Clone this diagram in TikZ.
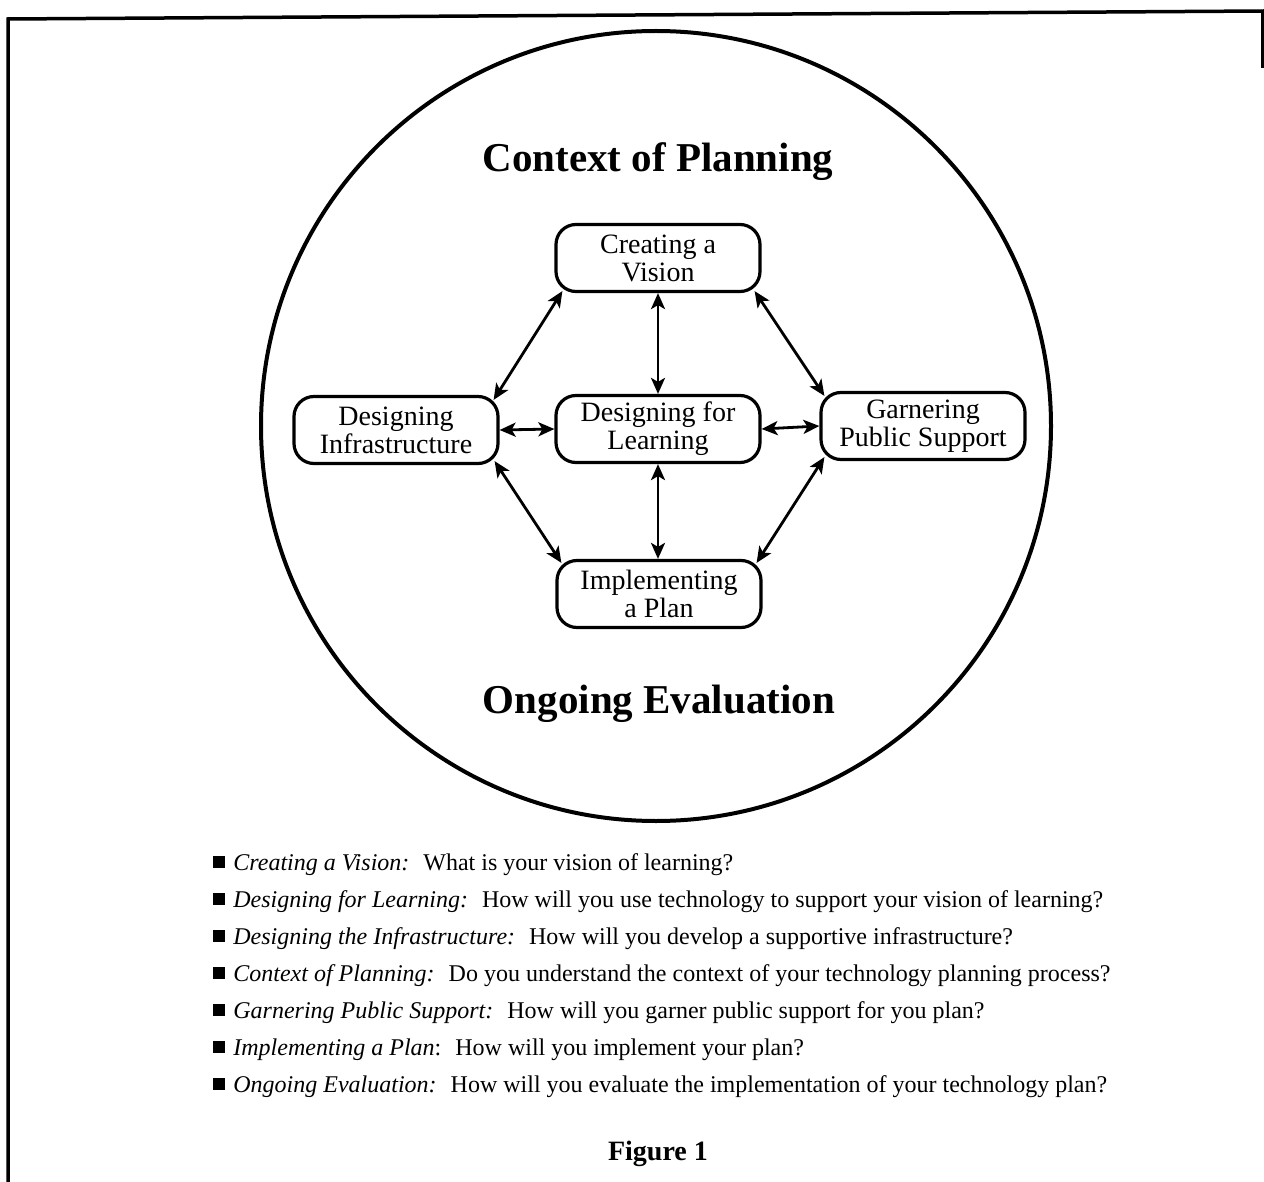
\documentclass[tikz,border=0pt]{standalone}
\usepackage{fontspec}
\setmainfont{Liberation Serif}
\usetikzlibrary{arrows.meta,calc}
\newcommand\itemsq{\rule[1pt]{6pt}{6pt}\hspace{4pt}}
\begin{document}
\begin{tikzpicture}[x=0.5pt,y=-0.5pt,
  stage/.style={draw, line width=1.6pt, rounded corners=10pt, minimum width=102pt, minimum height=33.5pt, align=center, font=\fontsize{14}{14}\selectfont, inner sep=0pt},
  tipx/.tip={Stealth[length=8pt,width=7pt,inset=2pt]},
  link/.style={line width=1.4pt, tipx-tipx},
  heading/.style={font=\fontsize{20.5}{24}\selectfont\bfseries, anchor=base, inner sep=0pt},
  entry/.style={font=\fontsize{12}{14}\selectfont, anchor=base west, inner sep=0pt},
]
\useasboundingbox (0,0) rectangle (1264,1182);
\fill[white] (0,0) rectangle (1264,1182);
% frame
\draw[line width=1.75pt] (8,1182) -- (8,19) -- (1264,11);
\draw[line width=1.5pt] (1262,11) -- (1262,68);
% ring
\node[draw, circle, line width=2pt, minimum size=395pt, inner sep=0pt] (ring) at (656,426) {};
% headings
\node[heading] (ctx) at (658,172) {Context of Planning};
\node[heading] (eval) at (659,713) {Ongoing Evaluation};
% stages
\node[stage] (vision) at (658,258) {Creating a\\Vision};
\node[stage] (infra) at (396,430) {Designing\\Infrastructure};
\node[stage] (learn) at (658,429) {Designing for\\Learning};
\node[stage] (garner) at (923,426) {Garnering\\Public Support};
\node[stage] (impl) at (659,594) {Implementing\\a Plan};
% connectors
\draw[link] (vision.south) -- (learn.north);
\draw[link] (learn.south) -- (learn.south |- impl.north);
\draw[link] (infra.east) -- (learn.west);
\draw[link] (learn.east) -- (garner.west);
\draw[link] ($(vision.south west)+(8,-2)$) -- ($(infra.north east)+(-6,5)$);
\draw[link] ($(vision.south east)+(-7,-2)$) -- ($(garner.north west)+(5,5)$);
\draw[link] ($(infra.south east)+(-5,-4)$) -- ($(impl.north west)+(6,4)$);
\draw[link] ($(garner.south west)+(5,-4)$) -- ($(impl.north east)+(-6,4)$);
% list
\node[entry] (l1) at (213,870) {\itemsq\textit{Creating a Vision:}\hspace{7pt}What is your vision of learning?};
\node[entry] (l2) at (213,907) {\itemsq\textit{Designing for Learning:}\hspace{7pt}How will you use technology to support your vision of learning?};
\node[entry] (l3) at (213,944) {\itemsq\textit{Designing the Infrastructure:}\hspace{7pt}How will you develop a supportive infrastructure?};
\node[entry] (l4) at (213,981) {\itemsq\textit{Context of Planning:}\hspace{7pt}Do you understand the context of your technology planning process?};
\node[entry] (l5) at (213,1018) {\itemsq\textit{Garnering Public Support:}\hspace{7pt}How will you garner public support for you plan?};
\node[entry] (l6) at (213,1055) {\itemsq\textit{Implementing a Plan}:\hspace{7pt}How will you implement your plan?};
\node[entry] (l7) at (213,1092) {\itemsq\textit{Ongoing Evaluation:}\hspace{7pt}How will you evaluate the implementation of your technology plan?};
\node[font=\fontsize{14}{16}\selectfont\bfseries, anchor=base, inner sep=0pt] (fig) at (658,1160) {Figure 1};
\end{tikzpicture}
\end{document}
